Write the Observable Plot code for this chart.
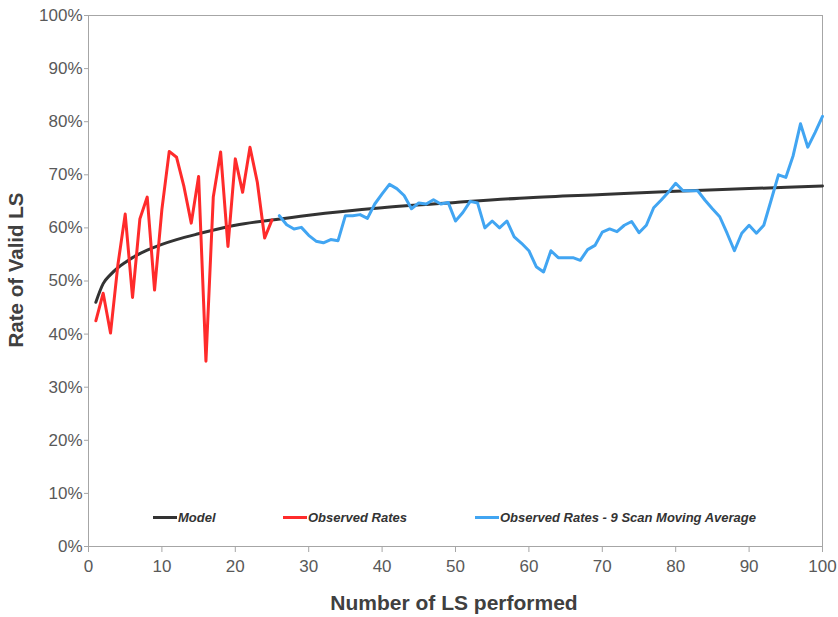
<!DOCTYPE html>
<html>
<head>
<meta charset="utf-8">
<script src="https://cdn.jsdelivr.net/npm/d3@7"></script>
<script src="https://cdn.jsdelivr.net/npm/@observablehq/plot@0.6"></script>
<style>
  html, body { margin: 0; padding: 0; background: #fff; }
  #wrap { position: relative; width: 838px; height: 617px; font-family: "Liberation Sans", Arial, sans-serif; }
  #legend { position: absolute; top: 510px; left: 0; width: 838px; height: 20px; font-style: italic; font-weight: bold; font-size: 13px; color: #333; font-family: "Liberation Sans", Arial, sans-serif; }
  .item { position: absolute; display: flex; align-items: center; white-space: nowrap; }
  .sw { width: 24px; height: 3px; margin-right: 1px; }
</style>
</head>
<body>
<div id="wrap">
  <div id="chart"></div>
  <div id="legend"></div>
</div>
<script>
// Model curve (read at sample points)
const modelX = [1, 2, 3, 4, 5, 6, 8, 10, 12, 15, 20, 25, 30, 40, 50, 60, 70, 80, 90, 100];
const modelY = [46, 49.5, 51.2, 52.5, 53.5, 54.4, 55.8, 56.9, 57.8, 58.9, 60.5, 61.5, 62.4, 63.8, 64.8, 65.7, 66.3, 66.9, 67.4, 67.9];

// Observed rates, LS 1..25
const observedStart = 1;
const observedY = [42.5, 47.7, 40.2, 53, 62.6, 46.9, 61.7, 65.8, 48.3, 63.5, 74.4, 73.3, 67.8, 60.9, 69.7, 34.9, 65.8, 74.3, 56.5, 73.0, 66.7, 75.2, 68.6, 58.1, 61.5];

// 9 scan moving average, LS 26..100
const avgStart = 26;
const avgY = [62.3, 60.6, 59.8, 60.1, 58.6, 57.5, 57.2, 57.8, 57.6, 62.3,
  62.3, 62.5, 61.8, 64.5, 66.4, 68.2, 67.4, 66.1, 63.6, 64.7,
  64.5, 65.3, 64.5, 64.8, 61.3, 62.9, 65.0, 64.7, 60.0, 61.3,
  60.0, 61.3, 58.3, 57.1, 55.7, 52.7, 51.7, 55.7, 54.4, 54.4,
  54.4, 53.9, 55.9, 56.7, 59.2, 59.8, 59.3, 60.5, 61.2, 59.1,
  60.5, 63.8, 65.2, 66.7, 68.4, 67.0, 67.0, 67.0, 65.2, 63.6,
  62.1, 59.0, 55.7, 59.0, 60.5, 59.0, 60.5, 65.2, 70.0, 69.5,
  73.6, 79.6, 75.2, 78.0, 81.0];

const xTicks = [0, 10, 20, 30, 40, 50, 60, 70, 80, 90, 100];
const yTicks = [0, 10, 20, 30, 40, 50, 60, 70, 80, 90, 100];

const seriesNames = ["Model", "Observed Rates", "Observed Rates - 9 Scan Moving Average"];
const seriesColors = ["#333333", "#ff2b2b", "#41a5f2"];

const model = modelX.map((x, i) => ({x, y: modelY[i]}));
const observed = observedY.map((y, i) => ({x: observedStart + i, y}));
const avg = avgY.map((y, i) => ({x: avgStart + i, y}));

const plot = Plot.plot({
  width: 838,
  height: 617,
  marginLeft: 88,
  marginRight: 16,
  marginTop: 15,
  marginBottom: 71,
  style: {fontFamily: "'Liberation Sans', Arial, sans-serif", fontSize: "17px", color: "#595959", background: "#fff"},
  x: {domain: [0, 100], ticks: xTicks, tickSize: 6, tickPadding: 7, label: null},
  y: {domain: [0, 100], ticks: yTicks, tickFormat: d => d + "%", tickSize: 4, tickPadding: 2, label: null},
  marks: [
    Plot.frame({stroke: "#a6a6a6", strokeWidth: 1}),
    Plot.line(model, {x: "x", y: "y", stroke: seriesColors[0], strokeWidth: 3, curve: "monotone-x"}),
    Plot.line(observed, {x: "x", y: "y", stroke: seriesColors[1], strokeWidth: 3}),
    Plot.line(avg, {x: "x", y: "y", stroke: seriesColors[2], strokeWidth: 3}),
    Plot.axisX({ticks: xTicks, tickSize: 6, tickPadding: 7, stroke: "#a6a6a6", fill: "#595959", label: null}),
    Plot.axisY({ticks: yTicks, tickFormat: d => d + "%", tickSize: 4, tickPadding: 2, stroke: "#a6a6a6", fill: "#595959", label: null})
  ]
});
document.getElementById("chart").appendChild(plot);

// axis titles
const svg = d3.select(plot);
svg.append("text")
  .attr("x", 454).attr("y", 610)
  .attr("text-anchor", "middle")
  .attr("font-size", 21).attr("font-weight", "bold").attr("fill", "#404040")
  .text("Number of LS performed");
svg.append("text")
  .attr("transform", "translate(23,270) rotate(-90)")
  .attr("text-anchor", "middle")
  .attr("font-size", 20.5).attr("font-weight", "bold").attr("fill", "#404040")
  .text("Rate of Valid LS");

// legend
const legendLeft = [153, 283, 475];
const legend = document.getElementById("legend");
seriesNames.forEach((name, i) => {
  const it = document.createElement("div");
  it.className = "item";
  it.style.left = legendLeft[i] + "px";
  it.innerHTML = `<span class="sw" style="background:${seriesColors[i]}"></span><span>${name}</span>`;
  legend.appendChild(it);
});
</script>
</body>
</html>
